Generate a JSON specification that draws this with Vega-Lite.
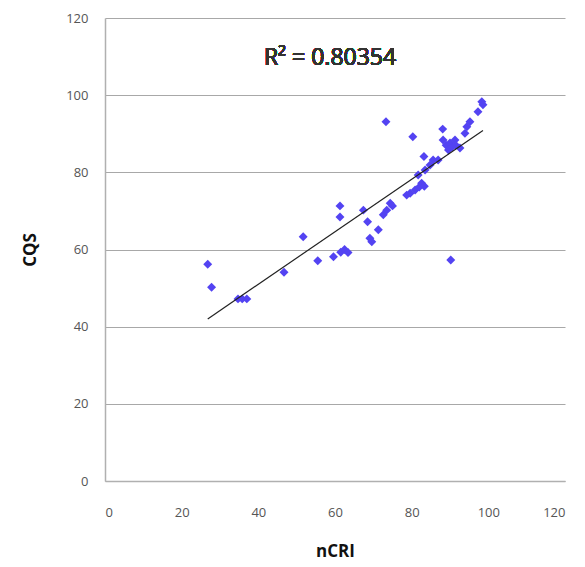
{
  "$schema": "https://vega.github.io/schema/vega-lite/v6.json",
  "width": 460,
  "height": 463,
  "autosize": {"type": "none"},
  "padding": {"left": 105, "top": 18, "right": 20, "bottom": 86},
  "background": "white",
  "config": {
    "view": {"stroke": null},
    "font": "Open Sans",
    "axis": {"labelFont": "Open Sans", "titleFont": "Open Sans"}
  },
  "data": {
    "values": [
      {"nCRI": 26.8, "CQS": 56.2}, {"nCRI": 27.8, "CQS": 50.2}, {"nCRI": 34.7, "CQS": 47.2},
      {"nCRI": 35.8, "CQS": 47.2}, {"nCRI": 37.0, "CQS": 47.2}, {"nCRI": 46.7, "CQS": 54.1},
      {"nCRI": 51.7, "CQS": 63.3}, {"nCRI": 55.5, "CQS": 57.1}, {"nCRI": 59.6, "CQS": 58.1},
      {"nCRI": 61.5, "CQS": 59.3}, {"nCRI": 62.5, "CQS": 60.0}, {"nCRI": 63.4, "CQS": 59.2},
      {"nCRI": 61.3, "CQS": 71.3}, {"nCRI": 61.3, "CQS": 68.4}, {"nCRI": 67.4, "CQS": 70.2},
      {"nCRI": 68.5, "CQS": 67.2}, {"nCRI": 69.1, "CQS": 62.9}, {"nCRI": 69.6, "CQS": 62.0},
      {"nCRI": 71.3, "CQS": 65.1}, {"nCRI": 72.6, "CQS": 69.0}, {"nCRI": 73.5, "CQS": 70.2},
      {"nCRI": 74.4, "CQS": 72.0}, {"nCRI": 75.0, "CQS": 71.3}, {"nCRI": 73.3, "CQS": 93.1},
      {"nCRI": 78.7, "CQS": 74.1}, {"nCRI": 79.6, "CQS": 74.6}, {"nCRI": 80.9, "CQS": 75.4},
      {"nCRI": 82.0, "CQS": 76.2}, {"nCRI": 82.6, "CQS": 77.2}, {"nCRI": 83.3, "CQS": 76.4},
      {"nCRI": 81.7, "CQS": 79.3}, {"nCRI": 83.5, "CQS": 80.6}, {"nCRI": 80.3, "CQS": 89.2},
      {"nCRI": 83.2, "CQS": 84.1}, {"nCRI": 85.6, "CQS": 83.2}, {"nCRI": 84.8, "CQS": 81.9},
      {"nCRI": 86.9, "CQS": 83.2}, {"nCRI": 88.1, "CQS": 91.2}, {"nCRI": 88.2, "CQS": 88.4},
      {"nCRI": 89.0, "CQS": 87.0}, {"nCRI": 89.6, "CQS": 85.8}, {"nCRI": 90.0, "CQS": 87.6},
      {"nCRI": 90.6, "CQS": 86.6}, {"nCRI": 91.3, "CQS": 88.4}, {"nCRI": 91.5, "CQS": 87.0},
      {"nCRI": 92.6, "CQS": 86.3}, {"nCRI": 93.9, "CQS": 90.1}, {"nCRI": 94.4, "CQS": 91.8},
      {"nCRI": 95.2, "CQS": 93.1}, {"nCRI": 97.3, "CQS": 95.7}, {"nCRI": 98.3, "CQS": 98.3},
      {"nCRI": 98.6, "CQS": 97.5}, {"nCRI": 90.2, "CQS": 57.3}
    ]
  },
  "layer": [
    {
      "mark": {"type": "point", "shape": "diamond", "filled": true, "size": 80, "color": "#5343f2", "opacity": 1},
      "encoding": {
        "x": {
          "field": "nCRI", "type": "quantitative",
          "scale": {"domain": [0, 120], "nice": false, "zero": true},
          "axis": {
            "values": [0, 20, 40, 60, 80, 100, 120],
            "grid": false, "ticks": false,
            "domainColor": "#b0b0b0", "domainWidth": 1.5,
            "labelColor": "#555555", "labelFontSize": 13, "labelPadding": 25,
            "title": "nCRI", "titleFontSize": 17, "titleFontWeight": "bold",
            "titleColor": "#111111", "titlePadding": 24
          }
        },
        "y": {
          "field": "CQS", "type": "quantitative",
          "scale": {"domain": [0, 120], "nice": false},
          "axis": {
            "values": [0, 20, 40, 60, 80, 100, 120],
            "grid": true, "gridColor": "#a8a8a8", "gridWidth": 1.2,
            "ticks": false,
            "domainColor": "#b0b0b0", "domainWidth": 1.5,
            "labelColor": "#555555", "labelFontSize": 13, "labelPadding": 17,
            "title": "CQS", "titleFontSize": 17, "titleFontWeight": "bold",
            "titleColor": "#111111", "titlePadding": 26
          }
        }
      }
    },
    {
      "transform": [{"regression": "CQS", "on": "nCRI"}],
      "mark": {"type": "line", "color": "#222222", "strokeWidth": 1.2},
      "encoding": {
        "x": {"field": "nCRI", "type": "quantitative"},
        "y": {"field": "CQS", "type": "quantitative"}
      }
    },
    {
      "mark": {"type": "text", "font": "Open Sans", "fontWeight": "normal", "fontSize": 23, "color": "#333333", "align": "center", "baseline": "middle"},
      "encoding": {
        "x": {"datum": 58.7},
        "y": {"datum": 109.6},
        "text": {"value": "R² = 0.80354"}
      }
    }
  ]
}
